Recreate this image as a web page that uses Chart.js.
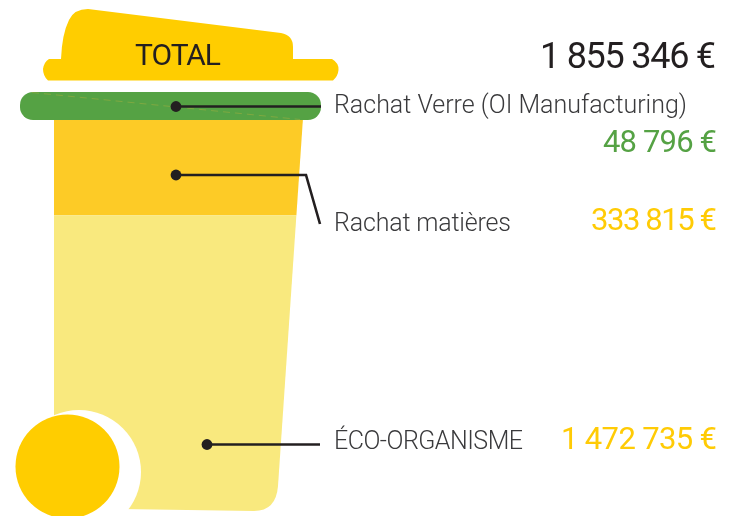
<!DOCTYPE html>
<html><head><meta charset="utf-8">
<style>html,body{margin:0;padding:0;background:#fff}canvas{display:block}</style>
<script src="https://cdn.jsdelivr.net/npm/chart.js@4"></script>
</head><body>
<canvas id="c" width="736" height="516"></canvas>
<script>
// Segment names and the euro amounts printed beside them
const categories = ["ÉCO-ORGANISME", "Rachat matières", "Rachat Verre (OI Manufacturing)"];
const amounts = [1472735, 333815, 48796];
const totalLabel = "TOTAL";
const totalAmount = 1855346;
// Segment heights as drawn in the picture (% of bin height; the picture is not to scale)
const drawnShares = [70.6, 22.7, 6.7];
const colours = ["#f9e97e", "#fdcb26", "#55a244"];
const amountColours = ["#ffcb05", "#ffcb05", "#55a244"];

const FONT = "Roboto, sans-serif";
const ink = "#231f20";
const fmt = v => String(v).replace(/\B(?=(\d{3})+$)/g, " ") + " €";

function binPath(ctx){
  ctx.beginPath();
  ctx.moveTo(54,118);
  ctx.lineTo(303,118);
  ctx.lineTo(278,486);
  ctx.quadraticCurveTo(276,511,254,511);
  ctx.lineTo(54,508);
  ctx.closePath();
}
function fitText(ctx,text,x,y,size,width,colour,align,weight){
  ctx.save();
  ctx.font=(weight||400)+" "+size+"px "+FONT;
  ctx.fillStyle=colour;
  ctx.textBaseline="alphabetic";
  ctx.textAlign="left";
  ctx.letterSpacing="0px";
  const natural=ctx.measureText(text).width;
  const spacing=(width-natural)/Math.max(1,text.length-1);
  ctx.letterSpacing=spacing.toFixed(3)+"px";
  const left=align==="right"?x-width:x;
  ctx.fillText(text,left,y);
  ctx.restore();
}
function leader(ctx,pts){
  ctx.save();
  ctx.strokeStyle=ink;ctx.lineWidth=2.6;ctx.lineJoin="miter";
  ctx.beginPath();
  pts.forEach((p,i)=>i?ctx.lineTo(p[0],p[1]):ctx.moveTo(p[0],p[1]));
  ctx.stroke();
  ctx.fillStyle=ink;
  ctx.beginPath();ctx.arc(pts[0][0],pts[0][1],5.4,0,Math.PI*2);ctx.fill();
  ctx.restore();
}
const binPlugin={
  id:"bin",
  beforeDatasetDraw(chart,args){
    const ctx=chart.ctx;
    ctx.save();
    if(args.index<2){binPath(ctx);ctx.clip();}
  },
  afterDatasetDraw(chart,args){
    chart.ctx.restore();
  },
  afterDatasetsDraw(chart){
    const ctx=chart.ctx;
    // faint seam across the rim
    ctx.save();
    ctx.strokeStyle="rgba(200,180,60,0.5)";ctx.lineWidth=0.7;ctx.setLineDash([7,5]);
    ctx.beginPath();ctx.moveTo(32,92.5);ctx.lineTo(300,119.5);ctx.stroke();
    ctx.restore();
    // wheel with white halo
    ctx.save();
    ctx.fillStyle="#fff";
    ctx.beginPath();ctx.arc(79,472,62,0,Math.PI*2);ctx.fill();
    ctx.fillRect(0,411,54,105);
    ctx.fillStyle="#ffcd00";
    ctx.beginPath();ctx.arc(67.5,466.5,52,0,Math.PI*2);ctx.fill();
    // lid
    ctx.beginPath();
    ctx.moveTo(88,9);
    ctx.lineTo(281,33);
    ctx.quadraticCurveTo(293,35,293,47);
    ctx.lineTo(293,59);
    ctx.lineTo(332,59);
    ctx.quadraticCurveTo(339,63,338.5,70);
    ctx.quadraticCurveTo(338,76,333,80.5);
    ctx.lineTo(48,80.5);
    ctx.quadraticCurveTo(43,76,43,69);
    ctx.quadraticCurveTo(44,62,49,59);
    ctx.lineTo(61,59);
    ctx.quadraticCurveTo(62,34,69,20);
    ctx.quadraticCurveTo(74,9,88,9);
    ctx.closePath();ctx.fill();
    ctx.restore();
    // leaders
    leader(ctx,[[176,106.5],[321,106.5]]);
    leader(ctx,[[176,175],[306,175],[320,224]]);
    leader(ctx,[[207,444.5],[320,444.5]]);
    // text
    fitText(ctx,totalLabel,135,65,30,86,ink,"left",400);
    fitText(ctx,fmt(totalAmount),716,68,36,176,ink,"right",400);
    fitText(ctx,categories[2],334,113,25,353,"#3a3a3c","left",300);
    fitText(ctx,categories[1],334,231,25,177,"#3a3a3c","left",300);
    fitText(ctx,categories[0],334,449,25,189,"#3a3a3c","left",300);
    fitText(ctx,fmt(amounts[2]),717,152,31,114,amountColours[2],"right",400);
    fitText(ctx,fmt(amounts[1]),717,230,31,126,amountColours[1],"right",400);
    fitText(ctx,fmt(amounts[0]),717,449,31,156,amountColours[0],"right",400);
  }
};
new Chart(document.getElementById("c"),{
  type:"bar",
  data:{
    labels:[totalLabel],
    datasets:categories.map((name,i)=>({
      label:name,
      data:[drawnShares[i]],
      backgroundColor:colours[i],
      borderWidth:0,
      inflateAmount:0,
      borderSkipped:false,
      borderRadius:i===2?13:0,
      barPercentage:1,
      categoryPercentage:1
    }))
  },
  options:{
    responsive:false,
    animation:false,
    devicePixelRatio:1,
    layout:{padding:{left:20,right:415,top:92,bottom:5}},
    plugins:{legend:{display:false},tooltip:{enabled:false},title:{display:false}},
    scales:{
      x:{stacked:true,display:false},
      y:{stacked:true,display:false,min:0,max:100}
    }
  },
  plugins:[binPlugin]
});
</script>
</body></html>
